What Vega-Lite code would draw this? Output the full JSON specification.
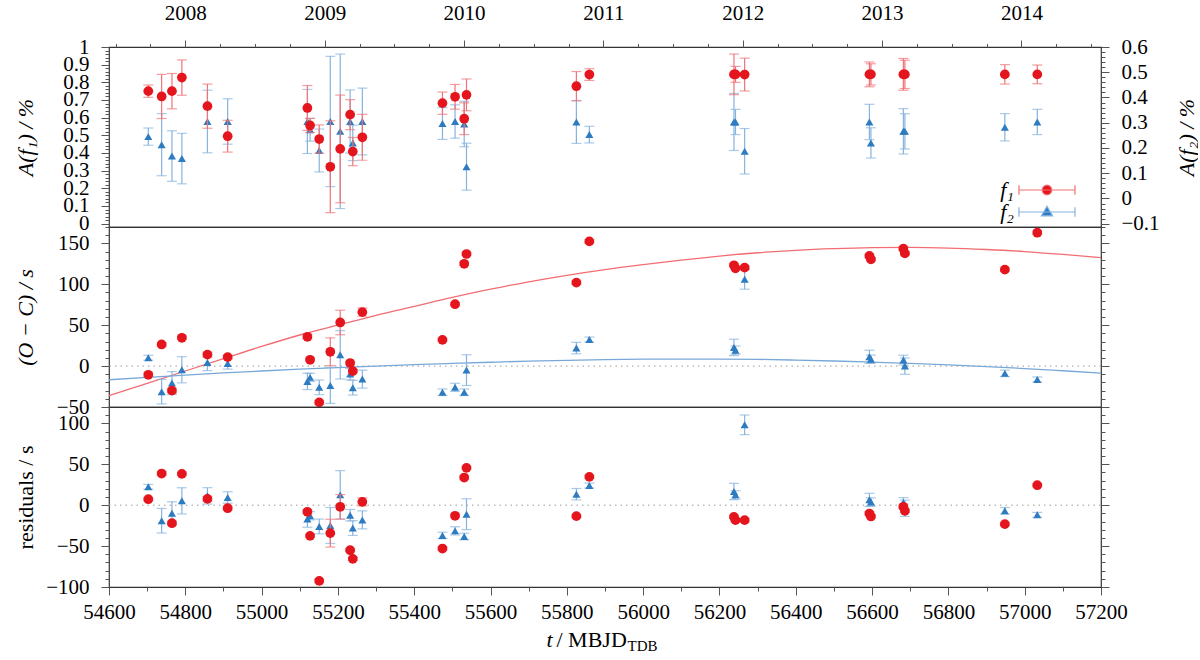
{
  "$schema": "https://vega.github.io/schema/vega-lite/v6.json",
  "background": "white",
  "padding": {"left": 13, "top": 1, "right": 0, "bottom": 0},
  "config": {
    "font": "Liberation Serif, Times New Roman, Times, DejaVu Serif, serif",
    "view": {"stroke": "#333333", "strokeWidth": 1.2},
    "axis": {"grid": false, "domain": false, "tickColor": "#555555", "tickWidth": 1, "labelFont": "Liberation Serif, Times New Roman, Times, DejaVu Serif, serif", "labelFontSize": 21, "labelColor": "#000000", "titleFont": "Liberation Serif, Times New Roman, Times, DejaVu Serif, serif", "titleFontSize": 22, "titleFontWeight": "normal", "titleColor": "#000000", "labelOverlap": false},
    "legend": {"labelFont": "Liberation Serif, Times New Roman, Times, DejaVu Serif, serif"}
  },
  "datasets": {
    "pts": [
      {"f":"f₁","t":54703,"a":0.75,"ae":0.035,"oc":-10.6,"te":2,"res":7.3},
      {"f":"f₁","t":54738,"a":0.72,"ae":0.125,"oc":26.4,"te":2,"res":38.7},
      {"f":"f₁","t":54765,"a":0.75,"ae":0.10,"oc":-30,"te":2.5,"res":-22},
      {"f":"f₁","t":54791,"a":0.827,"ae":0.10,"oc":34.6,"te":2,"res":38.3},
      {"f":"f₁","t":54858,"a":0.665,"ae":0.125,"oc":14,"te":3,"res":7.7},
      {"f":"f₁","t":54911,"a":0.495,"ae":0.09,"oc":11,"te":2.5,"res":-3.7},
      {"f":"f₁","t":55120,"a":0.655,"ae":0.127,"oc":35.8,"te":2.5,"res":-8.1},
      {"f":"f₁","t":55127,"a":0.556,"ae":0.04,"oc":7.7,"te":2,"res":-37.5},
      {"f":"f₁","t":55151,"a":0.479,"ae":0.08,"oc":-44.3,"te":2.5,"res":-92.5},
      {"f":"f₁","t":55180,"a":0.322,"ae":0.26,"oc":17.5,"te":17,"res":-34.2},
      {"f":"f₁","t":55206,"a":0.423,"ae":0.305,"oc":53.3,"te":15,"res":-2},
      {"f":"f₁","t":55232,"a":0.617,"ae":0.085,"oc":3.7,"te":2,"res":-55},
      {"f":"f₁","t":55239,"a":0.408,"ae":0.08,"oc":-6.1,"te":2,"res":-65.6},
      {"f":"f₁","t":55264,"a":0.489,"ae":0.13,"oc":65.9,"te":5,"res":4},
      {"f":"f₁","t":55474,"a":0.682,"ae":0.063,"oc":32.1,"te":2,"res":-53},
      {"f":"f₁","t":55507,"a":0.718,"ae":0.07,"oc":75.6,"te":2,"res":-13},
      {"f":"f₁","t":55531,"a":0.594,"ae":0.09,"oc":125,"te":2,"res":33.8},
      {"f":"f₁","t":55537,"a":0.729,"ae":0.09,"oc":137,"te":2,"res":45.6},
      {"f":"f₁","t":55825,"a":0.778,"ae":0.083,"oc":102,"te":2,"res":-13.4},
      {"f":"f₁","t":55859,"a":0.844,"ae":0.033,"oc":152.4,"te":2,"res":34.6},
      {"f":"f₁","t":56238,"a":0.845,"ae":0.115,"oc":123.2,"te":2,"res":-14.3},
      {"f":"f₁","t":56242,"a":0.845,"ae":0.045,"oc":119.5,"te":2,"res":-18.3},
      {"f":"f₁","t":56266,"a":0.844,"ae":0.093,"oc":120.3,"te":2,"res":-18.3},
      {"f":"f₁","t":56593,"a":0.845,"ae":0.07,"oc":134.6,"te":2,"res":-10.2},
      {"f":"f₁","t":56597,"a":0.845,"ae":0.06,"oc":130.5,"te":2,"res":-13.8},
      {"f":"f₁","t":56682,"a":0.845,"ae":0.09,"oc":143.5,"te":2,"res":-2},
      {"f":"f₁","t":56686,"a":0.845,"ae":0.08,"oc":137.8,"te":2,"res":-6.9},
      {"f":"f₁","t":56948,"a":0.845,"ae":0.055,"oc":117.9,"te":2,"res":-23.2},
      {"f":"f₁","t":57033,"a":0.845,"ae":0.053,"oc":163,"te":2,"res":24.4},
      {"f":"f₂","t":54703,"a":0.245,"ae":0.034,"oc":10.2,"te":3,"res":22.4},
      {"f":"f₂","t":54738,"a":0.213,"ae":0.123,"oc":-31.3,"te":15,"res":-19},
      {"f":"f₂","t":54765,"a":0.168,"ae":0.10,"oc":-20.7,"te":14,"res":-9.8},
      {"f":"f₂","t":54791,"a":0.158,"ae":0.10,"oc":-4.5,"te":16,"res":5.3},
      {"f":"f₂","t":54858,"a":0.305,"ae":0.124,"oc":4.5,"te":10,"res":11.4},
      {"f":"f₂","t":54911,"a":0.305,"ae":0.09,"oc":3.3,"te":7,"res":9.4},
      {"f":"f₂","t":55120,"a":0.305,"ae":0.127,"oc":-18.7,"te":10,"res":-17},
      {"f":"f₂","t":55127,"a":0.272,"ae":0.045,"oc":-13.8,"te":5,"res":-13},
      {"f":"f₂","t":55151,"a":0.19,"ae":0.085,"oc":-26,"te":9,"res":-26},
      {"f":"f₂","t":55180,"a":0.305,"ae":0.258,"oc":-23.6,"te":22,"res":-24.8},
      {"f":"f₂","t":55206,"a":0.266,"ae":0.306,"oc":13.8,"te":29.6,"res":12.6},
      {"f":"f₂","t":55232,"a":0.305,"ae":0.125,"oc":-9.8,"te":7,"res":-12.2},
      {"f":"f₂","t":55239,"a":0.22,"ae":0.07,"oc":-26.4,"te":9,"res":-28},
      {"f":"f₂","t":55264,"a":0.305,"ae":0.132,"oc":-15.9,"te":11,"res":-18},
      {"f":"f₂","t":55474,"a":0.297,"ae":0.063,"oc":-32,"te":4,"res":-37},
      {"f":"f₂","t":55507,"a":0.305,"ae":0.066,"oc":-26,"te":5,"res":-31.4},
      {"f":"f₂","t":55531,"a":0.295,"ae":0.09,"oc":-32,"te":4,"res":-38.3},
      {"f":"f₂","t":55537,"a":0.126,"ae":0.093,"oc":-4.9,"te":18.8,"res":-11},
      {"f":"f₂","t":55825,"a":0.303,"ae":0.085,"oc":22,"te":7,"res":13.4},
      {"f":"f₂","t":55859,"a":0.253,"ae":0.033,"oc":32.5,"te":3,"res":24},
      {"f":"f₂","t":56238,"a":0.303,"ae":0.113,"oc":22.8,"te":10,"res":16.7},
      {"f":"f₂","t":56242,"a":0.303,"ae":0.05,"oc":19.5,"te":5,"res":12.6},
      {"f":"f₂","t":56266,"a":0.187,"ae":0.09,"oc":106,"te":12,"res":98.2},
      {"f":"f₂","t":56593,"a":0.303,"ae":0.07,"oc":11.4,"te":8,"res":6.5},
      {"f":"f₂","t":56597,"a":0.22,"ae":0.06,"oc":8.5,"te":5,"res":4},
      {"f":"f₂","t":56682,"a":0.266,"ae":0.09,"oc":7.3,"te":6,"res":3.3},
      {"f":"f₂","t":56686,"a":0.266,"ae":0.07,"oc":0,"te":10,"res":-3.7},
      {"f":"f₂","t":56948,"a":0.282,"ae":0.054,"oc":-8.9,"te":4,"res":-6.9},
      {"f":"f₂","t":57033,"a":0.303,"ae":0.05,"oc":-16.3,"te":3,"res":-11.8}
    ],
    "fit": [
      {"t":54600,"red":-36,"blue":-16.7},
      {"t":54700,"red":-21,"blue":-13.8},
      {"t":54800,"red":-6,"blue":-11},
      {"t":54900,"red":9,"blue":-8.4},
      {"t":55000,"red":24,"blue":-6},
      {"t":55100,"red":38,"blue":-3.8},
      {"t":55200,"red":50,"blue":-1.8},
      {"t":55300,"red":62,"blue":0},
      {"t":55400,"red":73,"blue":1.8},
      {"t":55500,"red":84,"blue":3.3},
      {"t":55600,"red":94,"blue":4.7},
      {"t":55700,"red":103,"blue":6},
      {"t":55800,"red":111,"blue":7},
      {"t":55900,"red":118,"blue":7.8},
      {"t":56000,"red":124,"blue":8.4},
      {"t":56100,"red":129.5,"blue":8.6},
      {"t":56200,"red":134.5,"blue":8.6},
      {"t":56300,"red":138.5,"blue":8.2},
      {"t":56400,"red":141.5,"blue":7.3},
      {"t":56500,"red":143.5,"blue":6.2},
      {"t":56600,"red":144.7,"blue":4.8},
      {"t":56700,"red":145,"blue":3.3},
      {"t":56800,"red":144.3,"blue":1.5},
      {"t":56900,"red":142.5,"blue":-0.6},
      {"t":57000,"red":140,"blue":-3},
      {"t":57100,"red":136.5,"blue":-5.7},
      {"t":57200,"red":132.5,"blue":-8.5}
    ]
  },
  "data": {"name": "pts"},
  "spacing": 0,
  "bounds": "flush",
  "resolve": {"scale": {"x": "independent"}, "axis": {"x": "independent"}, "legend": {"shape": "independent", "fill": "independent", "stroke": "independent"}},
  "vconcat": [
    {
      "width": 992,
      "height": 180,
      "layer": [
        {
          "transform": [{"filter": "datum.f == 'f₂'"}],
          "encoding": {
            "x": {"field": "t", "type": "quantitative", "scale": {"domain": [54600, 57200], "nice": false, "zero": false}, "axis": null},
            "y": {"field": "a", "type": "quantitative", "scale": {"domain": [-0.113, 0.6], "nice": false, "zero": false},
              "axis": {"orient": "right", "values": [-0.1,-0.08,-0.06,-0.04,-0.02,0,0.02,0.04,0.06,0.08,0.1,0.12,0.14,0.16,0.18,0.2,0.22,0.24,0.26,0.28,0.3,0.32,0.34,0.36,0.38,0.4,0.42,0.44,0.46,0.48,0.5,0.52,0.54,0.56,0.58,0.6],
                "labelExpr": "abs(datum.value*10 - round(datum.value*10)) < 0.001 ? format(datum.value, '~g') : ''",
                "tickSize": {"condition": {"test": "abs(datum.value*10 - round(datum.value*10)) < 0.001", "value": 8}, "value": 4},
                "labelPadding": 12, "title": "A(f₂) / %", "titleFontStyle": "italic", "titleAngle": -90, "titleX": 85, "titleY": 90, "titleAlign": "center", "titleBaseline": "middle"}}
          },
          "layer": [
            {"mark": {"type": "errorbar", "ticks": {"size": 10}, "color": "#86b3de", "thickness": 1.2}, "encoding": {"yError": {"field": "ae"}}},
            {"mark": {"type": "point", "shape": "triangle-up", "filled": true, "size": 65, "color": "#2d7bc0", "opacity": 1}}
          ]
        },
        {
          "transform": [{"filter": "datum.f == 'f₁'"}],
          "encoding": {
            "x": {"field": "t", "type": "quantitative", "scale": {"domain": [54600, 57200], "nice": false, "zero": false},
              "axis": {"orient": "top", "title": null,
                "values": [54617.375,54708.6875,54800,54891.3125,54982.625,55073.9375,55165.25,55256.5625,55347.875,55439.1875,55530.5,55621.8125,55713.125,55804.4375,55895.75,55987.0625,56078.375,56169.6875,56261,56352.3125,56443.625,56534.9375,56626.25,56717.5625,56808.875,56900.1875,56991.5,57082.8125,57174.125],
                "labelExpr": "abs((datum.value-54800)/365.25 - round((datum.value-54800)/365.25)) < 0.01 ? format(2008 + round((datum.value-54800)/365.25), 'd') : ''",
                "tickSize": {"condition": {"test": "abs((datum.value-54800)/365.25 - round((datum.value-54800)/365.25)) < 0.01", "value": 7}, "value": 3.5},
                "labelPadding": 16.5, "labelFlush": false}},
            "y": {"field": "a", "type": "quantitative", "scale": {"domain": [-0.019, 1], "nice": false, "zero": false},
              "axis": {"orient": "left", "values": [0,0.02,0.04,0.06,0.08,0.1,0.12,0.14,0.16,0.18,0.2,0.22,0.24,0.26,0.28,0.3,0.32,0.34,0.36,0.38,0.4,0.42,0.44,0.46,0.48,0.5,0.52,0.54,0.56,0.58,0.6,0.62,0.64,0.66,0.68,0.7,0.72,0.74,0.76,0.78,0.8,0.82,0.84,0.86,0.88,0.9,0.92,0.94,0.96,0.98,1],
                "labelExpr": "abs(datum.value*10 - round(datum.value*10)) < 0.001 ? format(datum.value, '~g') : ''",
                "tickSize": {"condition": {"test": "abs(datum.value*10 - round(datum.value*10)) < 0.001", "value": 8}, "value": 4},
                "labelPadding": 12, "title": "A(f₁) / %", "titleFontStyle": "italic", "titleAngle": -90, "titleX": -84, "titleY": 90, "titleAlign": "center", "titleBaseline": "middle"}}
          },
          "layer": [
            {"mark": {"type": "errorbar", "ticks": {"size": 10}, "color": "#f07276", "thickness": 1.2}, "encoding": {"yError": {"field": "ae"}}},
            {"mark": {"type": "point", "shape": "circle", "filled": true, "size": 95, "color": "#e4151c", "opacity": 1}}
          ]
        },
        {
          "mark": {"type": "point", "filled": true, "opacity": 0},
          "encoding": {
            "x": {"field": "t", "type": "quantitative", "scale": {"domain": [54600, 57200], "nice": false, "zero": false}, "axis": null},
            "y": {"field": "a", "type": "quantitative", "axis": null},
            "shape": {"field": "f", "type": "nominal", "scale": {"domain": ["f₁", "f₂"], "range": ["M-3.5,0H3.5M-3.5,-0.6V0.6M3.5,-0.6V0.6M0.6,0A0.6,0.6,0,1,1,-0.6,0A0.6,0.6,0,1,1,0.6,0Z", "M-3.5,0H3.5M-3.5,-0.6V0.6M3.5,-0.6V0.6M0,-0.72L0.7,0.48L-0.7,0.48Z"]},
              "legend": {"title": null, "orient": "none", "legendX": 927, "legendY": 132, "symbolSize": 256, "symbolStrokeWidth": 1.2, "symbolOpacity": 1, "labelFontSize": 22, "labelFontStyle": "italic", "labelAlign": "right", "labelOffset": -44, "rowPadding": -6}},
            "fill": {"field": "f", "type": "nominal", "scale": {"domain": ["f₁", "f₂"], "range": ["#e4151c", "#2d7bc0"]},
              "legend": {"title": null, "orient": "none", "legendX": 927, "legendY": 132, "symbolSize": 256, "symbolStrokeWidth": 1.2, "symbolOpacity": 1, "labelFontSize": 22, "labelFontStyle": "italic", "labelAlign": "right", "labelOffset": -44, "rowPadding": -6}},
            "stroke": {"field": "f", "type": "nominal", "scale": {"domain": ["f₁", "f₂"], "range": ["#f07276", "#86b3de"]},
              "legend": {"title": null, "orient": "none", "legendX": 927, "legendY": 132, "symbolSize": 256, "symbolStrokeWidth": 1.2, "symbolOpacity": 1, "labelFontSize": 22, "labelFontStyle": "italic", "labelAlign": "right", "labelOffset": -44, "rowPadding": -6}}
          }
        }
      ],
      "resolve": {"scale": {"y": "independent"}, "axis": {"x": "independent", "y": "independent"}}
    },
    {
      "width": 992,
      "height": 180,
      "layer": [
        {"data": {"values": [{}]}, "mark": {"type": "rule", "color": "#9a9a9a", "strokeDash": [1.5, 4], "strokeWidth": 1},
          "encoding": {"y": {"datum": 0, "type": "quantitative", "scale": {"domain": [-50, 170], "nice": false, "zero": false}, "axis": null}}},
        {"data": {"name": "fit"}, "mark": {"type": "line", "color": "#f26d72", "strokeWidth": 1.3, "interpolate": "monotone"},
          "encoding": {
            "x": {"field": "t", "type": "quantitative", "scale": {"domain": [54600, 57200], "nice": false, "zero": false}, "axis": null},
            "y": {"field": "red", "type": "quantitative", "scale": {"domain": [-50, 170], "nice": false, "zero": false},
              "axis": {"orient": "left", "values": [-50,-40,-30,-20,-10,0,10,20,30,40,50,60,70,80,90,100,110,120,130,140,150,160,170],
                "labelExpr": "datum.value % 50 == 0 ? format(datum.value, 'd') : ''",
                "tickSize": {"condition": {"test": "datum.value % 50 == 0", "value": 8}, "value": 4},
                "labelPadding": 12, "title": "(O − C) / s", "titleFontStyle": "italic", "titleAngle": -90, "titleX": -84, "titleY": 90, "titleAlign": "center", "titleBaseline": "middle"}}
          }},
        {"data": {"name": "fit"}, "mark": {"type": "line", "color": "#78a8d8", "strokeWidth": 1.3, "interpolate": "monotone"},
          "encoding": {
            "x": {"field": "t", "type": "quantitative", "scale": {"domain": [54600, 57200], "nice": false, "zero": false}, "axis": null},
            "y": {"field": "blue", "type": "quantitative", "scale": {"domain": [-50, 170], "nice": false, "zero": false},
              "axis": {"orient": "right", "values": [-50,-40,-30,-20,-10,0,10,20,30,40,50,60,70,80,90,100,110,120,130,140,150,160,170],
                "labels": false, "title": null,
                "tickSize": {"condition": {"test": "datum.value % 50 == 0", "value": 8}, "value": 4}}}
          }},
        {
          "transform": [{"filter": "datum.f == 'f₂'"}],
          "encoding": {
            "x": {"field": "t", "type": "quantitative", "scale": {"domain": [54600, 57200], "nice": false, "zero": false}, "axis": null},
            "y": {"field": "oc", "type": "quantitative", "scale": {"domain": [-50, 170], "nice": false, "zero": false}, "axis": null}
          },
          "layer": [
            {"mark": {"type": "errorbar", "ticks": {"size": 10}, "color": "#86b3de", "thickness": 1.2}, "encoding": {"yError": {"field": "te"}}},
            {"mark": {"type": "point", "shape": "triangle-up", "filled": true, "size": 65, "color": "#2d7bc0", "opacity": 1}}
          ]
        },
        {
          "transform": [{"filter": "datum.f == 'f₁'"}],
          "encoding": {
            "x": {"field": "t", "type": "quantitative", "scale": {"domain": [54600, 57200], "nice": false, "zero": false}, "axis": null},
            "y": {"field": "oc", "type": "quantitative", "scale": {"domain": [-50, 170], "nice": false, "zero": false}, "axis": null}
          },
          "layer": [
            {"mark": {"type": "errorbar", "ticks": {"size": 10}, "color": "#f07276", "thickness": 1.2}, "encoding": {"yError": {"field": "te"}}},
            {"mark": {"type": "point", "shape": "circle", "filled": true, "size": 95, "color": "#e4151c", "opacity": 1}}
          ]
        }
      ],
      "resolve": {"axis": {"y": "independent"}}
    },
    {
      "width": 992,
      "height": 180,
      "layer": [
        {"data": {"values": [{}]}, "mark": {"type": "rule", "color": "#9a9a9a", "strokeDash": [1.5, 4], "strokeWidth": 1},
          "encoding": {
            "x": {"datum": 54600, "type": "quantitative", "scale": {"domain": [54600, 57200], "nice": false, "zero": false},
              "axis": {"orient": "bottom", "domain": false, "ticks": false, "labels": false, "title": "TDB", "titleFontSize": 15, "titleAlign": "left", "titleBaseline": "alphabetic", "titleX": 518, "titleY": 63}},
            "x2": {"datum": 57200},
            "y": {"datum": 0, "type": "quantitative", "scale": {"domain": [-100, 120], "nice": false, "zero": false}, "axis": null}
          }},
        {
          "transform": [{"filter": "datum.f == 'f₂'"}],
          "encoding": {
            "x": {"field": "t", "type": "quantitative", "scale": {"domain": [54600, 57200], "nice": false, "zero": false},
              "axis": {"orient": "bottom", "domain": false, "ticks": false, "labels": false, "title": "/ MBJD", "titleAlign": "left", "titleBaseline": "alphabetic", "titleX": 447, "titleY": 59}},
            "y": {"field": "res", "type": "quantitative", "scale": {"domain": [-100, 120], "nice": false, "zero": false},
              "axis": {"orient": "right", "values": [-100,-90,-80,-70,-60,-50,-40,-30,-20,-10,0,10,20,30,40,50,60,70,80,90,100,110,120],
                "labels": false, "title": null,
                "tickSize": {"condition": {"test": "datum.value % 50 == 0", "value": 8}, "value": 4}}}
          },
          "layer": [
            {"mark": {"type": "errorbar", "ticks": {"size": 10}, "color": "#86b3de", "thickness": 1.2}, "encoding": {"yError": {"field": "te"}}},
            {"mark": {"type": "point", "shape": "triangle-up", "filled": true, "size": 65, "color": "#2d7bc0", "opacity": 1}}
          ]
        },
        {
          "transform": [{"filter": "datum.f == 'f₁'"}],
          "encoding": {
            "x": {"field": "t", "type": "quantitative", "scale": {"domain": [54600, 57200], "nice": false, "zero": false},
              "axis": {"orient": "bottom", "values": [54600,54700,54800,54900,55000,55100,55200,55300,55400,55500,55600,55700,55800,55900,56000,56100,56200,56300,56400,56500,56600,56700,56800,56900,57000,57100,57200],
                "labelExpr": "datum.value % 200 == 0 ? format(datum.value, 'd') : ''",
                "tickSize": {"condition": {"test": "datum.value % 200 == 0", "value": 8}, "value": 4},
                "labelPadding": 6, "labelFlush": false,
                "title": "t", "titleFontStyle": "italic", "titleAlign": "left", "titleBaseline": "alphabetic", "titleX": 437, "titleY": 59}},
            "y": {"field": "res", "type": "quantitative", "scale": {"domain": [-100, 120], "nice": false, "zero": false},
              "axis": {"orient": "left", "values": [-100,-90,-80,-70,-60,-50,-40,-30,-20,-10,0,10,20,30,40,50,60,70,80,90,100,110,120],
                "labelExpr": "datum.value % 50 == 0 ? format(datum.value, 'd') : ''",
                "tickSize": {"condition": {"test": "datum.value % 50 == 0", "value": 8}, "value": 4},
                "labelPadding": 12, "title": "residuals / s", "titleAngle": -90, "titleX": -84, "titleY": 90, "titleAlign": "center", "titleBaseline": "middle"}}
          },
          "layer": [
            {"mark": {"type": "errorbar", "ticks": {"size": 10}, "color": "#f07276", "thickness": 1.2}, "encoding": {"yError": {"field": "te"}}},
            {"mark": {"type": "point", "shape": "circle", "filled": true, "size": 95, "color": "#e4151c", "opacity": 1}}
          ]
        }
      ],
      "resolve": {"axis": {"x": "independent", "y": "independent"}}
    }
  ]
}
